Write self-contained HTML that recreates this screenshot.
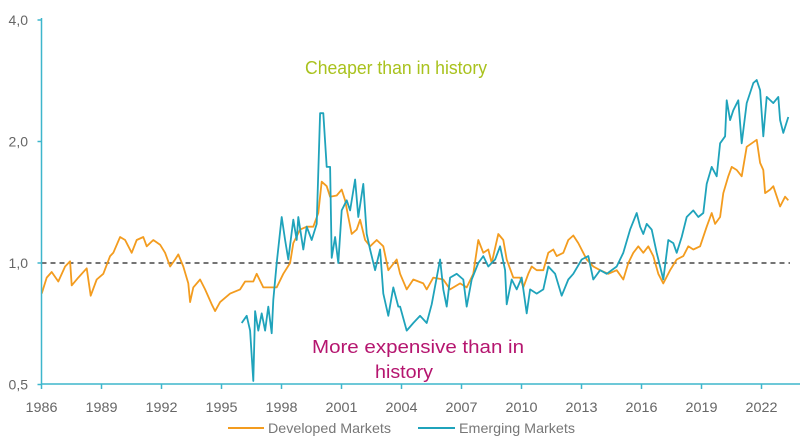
<!DOCTYPE html>
<html><head><meta charset="utf-8"><style>
html,body{margin:0;padding:0;background:#fff;}
svg{display:block;font-family:"Liberation Sans",sans-serif;}
</style></head><body>
<svg id="chart" width="800" height="444" viewBox="0 0 800 444" xmlns="http://www.w3.org/2000/svg">
<g id="grid"></g>
<g id="series"></g>
<g id="axes"></g>
<text x="396" y="74" text-anchor="middle" font-size="18" fill="#a9c21d" textLength="182" lengthAdjust="spacingAndGlyphs">Cheaper than in history</text>
<text x="418" y="353" text-anchor="middle" font-size="18" fill="#b5156f" textLength="212" lengthAdjust="spacingAndGlyphs">More expensive than in</text>
<text x="404" y="378" text-anchor="middle" font-size="18" fill="#b5156f" textLength="58" lengthAdjust="spacingAndGlyphs">history</text>
<g>
<line x1="228" y1="428" x2="264" y2="428" stroke="#f39c1f" stroke-width="2"/>
<text x="268" y="433" font-size="14" fill="#777" textLength="123" lengthAdjust="spacingAndGlyphs">Developed Markets</text>
<line x1="418" y1="428" x2="455" y2="428" stroke="#1fa3bb" stroke-width="2"/>
<text x="459" y="433" font-size="14" fill="#777" textLength="116" lengthAdjust="spacingAndGlyphs">Emerging Markets</text>
</g>
</svg>
<script>
const xTickYears = [1986,1989,1992,1995,1998,2001,2004,2007,2010,2013,2016,2019,2022];
const yTickValues = [0.5,1.0,2.0,4.0];
const yTickLabels = ["0,5","1,0","2,0","4,0"];
const devYears = [1986.01,1986.26,1986.51,1986.84,1987.18,1987.43,1987.51,1987.84,1988.26,1988.46,1988.76,1989.09,1989.43,1989.59,1989.93,1990.18,1990.51,1990.76,1991.09,1991.26,1991.59,1991.93,1992.18,1992.43,1992.68,1992.84,1993.09,1993.34,1993.43,1993.59,1993.93,1994.18,1994.51,1994.68,1994.93,1995.43,1995.93,1996.18,1996.59,1996.76,1997.09,1997.43,1997.76,1998.09,1998.43,1998.59,1998.93,1999.26,1999.59,1999.84,2000.01,2000.26,2000.43,2000.76,2001.01,2001.18,2001.34,2001.51,2001.76,2001.93,2002.18,2002.43,2002.76,2003.09,2003.34,2003.76,2003.93,2004.26,2004.59,2005.09,2005.26,2005.59,2006.09,2006.43,2006.93,2007.26,2007.59,2007.84,2008.09,2008.34,2008.51,2008.84,2009.09,2009.26,2009.59,2009.93,2010.09,2010.34,2010.51,2010.76,2011.09,2011.34,2011.59,2011.76,2012.09,2012.34,2012.59,2012.84,2013.26,2013.59,2013.93,2014.34,2014.76,2015.09,2015.34,2015.59,2015.84,2016.09,2016.34,2016.59,2016.84,2017.09,2017.43,2017.76,2018.09,2018.34,2018.59,2018.93,2019.26,2019.51,2019.68,2019.93,2020.09,2020.34,2020.51,2020.76,2021.01,2021.26,2021.51,2021.76,2021.93,2022.09,2022.18,2022.43,2022.59,2022.93,2023.18,2023.34];
const devValues = [0.84,0.92,0.95,0.90,0.98,1.01,0.88,0.92,0.97,0.83,0.91,0.94,1.04,1.06,1.16,1.14,1.06,1.14,1.16,1.10,1.14,1.11,1.06,0.98,1.02,1.05,0.98,0.89,0.80,0.87,0.91,0.86,0.79,0.76,0.80,0.84,0.86,0.90,0.90,0.94,0.87,0.87,0.87,0.94,1.00,1.12,1.21,1.23,1.23,1.33,1.59,1.55,1.46,1.47,1.52,1.43,1.30,1.18,1.21,1.28,1.14,1.10,1.14,1.10,0.96,1.02,0.94,0.86,0.91,0.89,0.86,0.92,0.91,0.86,0.89,0.87,0.94,1.14,1.06,1.08,1.00,1.18,1.14,1.02,0.92,0.92,0.87,0.94,0.98,0.96,0.96,1.06,1.08,1.04,1.06,1.14,1.17,1.12,1.02,0.98,0.96,0.94,0.96,0.91,1.00,1.06,1.10,1.06,1.10,1.04,0.94,0.89,0.96,1.02,1.04,1.10,1.08,1.10,1.23,1.33,1.25,1.30,1.49,1.64,1.73,1.70,1.64,1.94,1.98,2.02,1.77,1.70,1.49,1.52,1.55,1.38,1.46,1.43];
const emYears = [1996.01,1996.26,1996.43,1996.59,1996.68,1996.84,1997.01,1997.18,1997.34,1997.51,1997.59,1997.76,1998.01,1998.18,1998.34,1998.59,1998.76,1998.84,1999.09,1999.26,1999.51,1999.76,1999.93,2000.09,2000.26,2000.43,2000.51,2000.68,2000.84,2001.01,2001.26,2001.43,2001.68,2001.84,2002.09,2002.26,2002.43,2002.68,2002.93,2003.09,2003.34,2003.59,2003.84,2003.93,2004.26,2004.59,2004.93,2005.26,2005.51,2005.76,2005.93,2006.09,2006.26,2006.43,2006.76,2007.09,2007.26,2007.51,2007.84,2008.09,2008.34,2008.68,2008.93,2009.18,2009.26,2009.51,2009.76,2010.01,2010.26,2010.43,2010.76,2011.09,2011.34,2011.68,2012.01,2012.34,2012.59,2013.01,2013.34,2013.59,2013.93,2014.26,2014.76,2015.09,2015.43,2015.76,2015.93,2016.09,2016.26,2016.51,2016.76,2017.09,2017.34,2017.59,2017.76,2018.01,2018.26,2018.59,2018.84,2019.09,2019.26,2019.51,2019.76,2019.93,2020.18,2020.26,2020.43,2020.59,2020.84,2021.01,2021.26,2021.59,2021.76,2021.93,2022.09,2022.26,2022.59,2022.84,2022.93,2023.09,2023.34];
const emValues = [0.71,0.74,0.68,0.51,0.76,0.68,0.75,0.68,0.78,0.67,0.81,1.00,1.30,1.14,1.02,1.28,1.14,1.30,1.08,1.23,1.14,1.25,2.35,2.35,1.73,1.73,1.03,1.16,1.00,1.35,1.43,1.35,1.61,1.30,1.57,1.18,1.08,0.96,1.08,0.84,0.74,0.87,0.78,0.78,0.68,0.71,0.74,0.71,0.79,0.92,1.02,0.86,0.78,0.92,0.94,0.91,0.78,0.91,1.00,1.04,0.98,1.02,1.10,0.96,0.79,0.91,0.86,0.92,0.75,0.86,0.84,0.86,0.98,0.94,0.83,0.91,0.94,1.02,1.04,0.91,0.96,0.94,0.98,1.06,1.21,1.33,1.23,1.18,1.25,1.21,1.06,0.91,1.14,1.12,1.06,1.16,1.30,1.35,1.30,1.33,1.57,1.73,1.64,1.98,2.06,2.53,2.26,2.39,2.53,1.98,2.49,2.79,2.84,2.68,2.06,2.58,2.49,2.58,2.26,2.10,2.30];

const NS = "http://www.w3.org/2000/svg";
const X0 = 41.5, PXY = 20, YBASE = 263, PXOCT = 121.5;
function xScale(yr){ return X0 + (yr - 1986) * PXY; }
function yScale(v){ return YBASE - Math.log2(v) * PXOCT; }
function mk(tag, attrs, parent){ const e = document.createElementNS(NS, tag); for (const k in attrs) e.setAttribute(k, attrs[k]); parent.appendChild(e); return e; }
const axes = document.getElementById('axes');
const grid = document.getElementById('grid');
const series = document.getElementById('series');

const ref = mk('line', {x1: X0, x2: 790, y1: yScale(1), y2: yScale(1), stroke: '#222', 'stroke-width': 1.2, 'stroke-dasharray': '5,4'}, grid);



function drawLine(years, values, color, name){
  let d = '';
  years.forEach((yr, i) => { d += (i ? 'L' : 'M') + xScale(yr).toFixed(1) + ',' + yScale(values[i]).toFixed(1); });
  const p = mk('path', {d: d, fill: 'none', stroke: color, 'stroke-width': 1.8, 'stroke-linejoin': 'round'}, series);
  
  
}
drawLine(devYears, devValues, '#f39c1f', 'developed-markets-line');
drawLine(emYears, emValues, '#1fa3bb', 'emerging-markets-line');

const yAxis = mk('line', {x1: X0, x2: X0, y1: 18, y2: 384, stroke: '#3db6cc', 'stroke-width': 1.5}, axes);


const xAxis = mk('line', {x1: X0, x2: 800, y1: 384, y2: 384, stroke: '#3db6cc', 'stroke-width': 1.5}, axes);



yTickValues.forEach((v, i) => {
  const y = yScale(v);
  const t = mk('line', {x1: X0 - 4, x2: X0, y1: y, y2: y, stroke: '#3db6cc', 'stroke-width': 1.5}, axes);
  
  
  const l = mk('text', {x: 28, y: y + 5, 'text-anchor': 'end', 'font-size': 14, fill: '#666'}, axes);
  l.textContent = yTickLabels[i];
  
  
});
xTickYears.forEach(yr => {
  const x = xScale(yr);
  const t = mk('line', {x1: x, x2: x, y1: 384, y2: 389, stroke: '#3db6cc', 'stroke-width': 1.5}, axes);
  
  
  const l = mk('text', {x: x, y: 412, 'text-anchor': 'middle', 'font-size': 14, fill: '#666', textLength: 32, lengthAdjust: 'spacingAndGlyphs'}, axes);
  l.textContent = String(yr);
  
  
});
</script>
</body></html>
